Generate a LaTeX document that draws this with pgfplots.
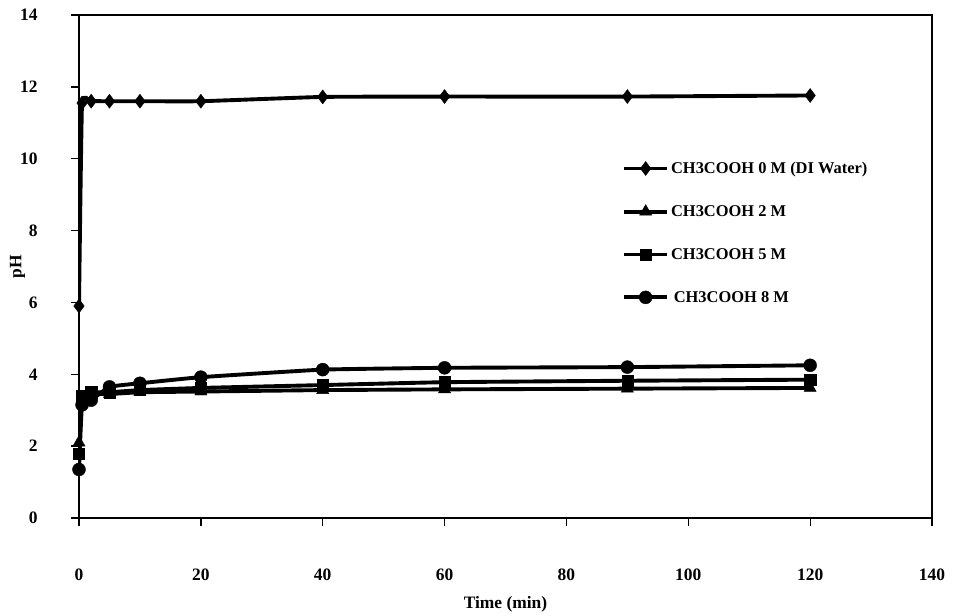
\documentclass[border=0pt]{standalone}
\usepackage{pgfplots}
\pgfplotsset{compat=1.18}
\usepackage{fontspec}
\setmainfont{Liberation Serif}
\begin{document}
\begin{tikzpicture}[x=1bp,y=1bp]
\begin{axis}[
  scale only axis,
  width=853bp, height=503bp,
  xmin=0, xmax=140, ymin=0, ymax=14,
  xtick={0,20,...,140}, ytick={0,2,...,14},
  xtick pos=bottom, ytick pos=left,
  tick align=outside, major tick length=8bp,
  axis line style={line width=1.7pt},
  tick style={line width=1.3pt, black},
  /pgf/number format/assume math mode=true,
  ticklabel style={font=\fontsize{17.5}{19}\selectfont\bfseries},
  xticklabel style={yshift=-39bp},
  yticklabel style={xshift=-30bp},
  xlabel={Time (min)},
  ylabel={pH},
  label style={font=\fontsize{17.5}{19}\selectfont\bfseries},
  xlabel style={at={(axis description cs:0.5,-0.171)}, anchor=center},
  ylabel style={at={(axis description cs:-0.072,0.5)}, anchor=center},
  legend style={at={(rel axis cs:0.6366,0.712)}, anchor=north west, draw=none,
    fill=none, font=\fontsize{16.5}{18}\selectfont\bfseries, row sep=26.5bp,
    inner sep=0pt},
  legend cell align=left,
  legend image code/.code={\draw[mark repeat=2,mark phase=2,#1]
     plot coordinates {(0bp,0bp) (21.5bp,0bp) (43bp,0bp)};},
  myp/.style={black, line width=3.9pt, smooth, tension=0.2,
    mark options={solid, fill=black, line width=0.4pt}},
]
\addplot[myp, mark=diamond*, mark size=7bp] coordinates {
 (0,5.9) (0.5,11.55) (2,11.6) (5,11.6) (10,11.6) (20,11.6) (40,11.72) (60,11.73) (90,11.73) (120,11.76)};
\addlegendentry{CH3COOH 0 M (DI Water)}
\addplot[myp, mark=triangle*, mark size=7bp] coordinates {
 (0,2.1) (0.5,3.3) (2,3.45) (5,3.45) (10,3.5) (20,3.52) (40,3.56) (60,3.58) (90,3.6) (120,3.62)};
\addlegendentry{CH3COOH 2 M}
\addplot[myp, mark=square*, mark size=5.6bp] coordinates {
 (0,1.8) (0.5,3.4) (2,3.5) (5,3.5) (10,3.56) (20,3.62) (40,3.7) (60,3.78) (90,3.82) (120,3.85)};
\addlegendentry{CH3COOH 5 M}
\addplot[myp, mark=*, mark size=6.5bp] coordinates {
 (0,1.35) (0.5,3.15) (2,3.28) (5,3.65) (10,3.75) (20,3.92) (40,4.13) (60,4.18) (90,4.2) (120,4.25)};
\addlegendentry{\,CH3COOH 8 M}
\end{axis}
\path (current axis.north west) ++(-79bp,15bp);
\path (current axis.south east) ++(22bp,-98bp);
\end{tikzpicture}
\end{document}
